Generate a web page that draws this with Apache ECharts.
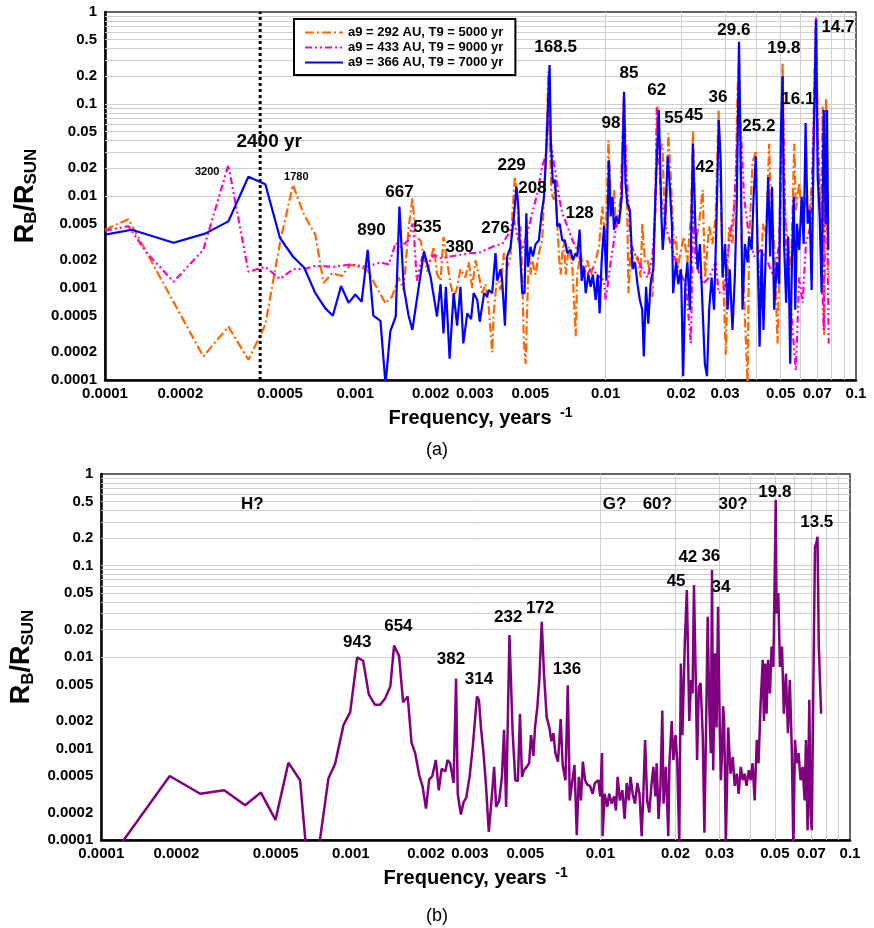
<!DOCTYPE html>
<html>
<head>
<meta charset="utf-8">
<script src="https://cdn.jsdelivr.net/npm/echarts@6/dist/echarts.min.js"></script>
<style>
  html, body { margin: 0; padding: 0; background: #fff; }
  #chart { width: 874px; height: 928px; }
</style>
</head>
<body>
<div id="chart"></div>
<script>
// ---- data: [frequency (1/yr), R_B/R_SUN] ----
const orange292 = [
  [1.00e-4,0.0043],[1.24e-4,0.0056],[2.47e-4,0.00018],[3.11e-4,0.00038],[3.74e-4,0.000166],
  [4.37e-4,0.0004],[5.0e-4,0.0031],[5.63e-4,0.0132],[6.25e-4,0.0062],[6.92e-4,0.0038],
  [7.47e-4,0.00113],[8.07e-4,0.00145],[8.85e-4,0.00135],[9.55e-4,0.0018],[1.11e-3,0.0016],
  [1.32e-3,0.00068],[1.40e-3,0.0008],[1.49e-3,0.0013],[1.56e-3,0.00095],[1.63e-3,0.0043],
  [1.69e-3,0.0095],[1.74e-3,0.0036],[1.82e-3,0.0033],[1.88e-3,0.0022],[1.94e-3,0.0015],
  [2.06e-3,0.0028],[2.12e-3,0.0014],[2.19e-3,0.0012],[2.25e-3,0.0036],[2.33e-3,0.0019],
  [2.40e-3,0.0011],[2.47e-3,0.0008],[2.55e-3,0.0010],[2.63e-3,0.0016],[2.75e-3,0.0013],
  [2.84e-3,0.0019],[2.93e-3,0.0010],[3.02e-3,0.0020],[3.11e-3,0.0014],[3.21e-3,0.00088],
  [3.31e-3,0.0011],[3.41e-3,0.00063],[3.52e-3,0.0002],[3.57e-3,0.00053],[3.69e-3,0.0014],
  [3.80e-3,0.00095],[3.92e-3,0.0024],[4.04e-3,0.0017],[4.17e-3,0.0022],[4.24e-3,0.0065],
  [4.34e-3,0.0163],[4.44e-3,0.0098],[4.50e-3,0.0033],[4.57e-3,0.0047],[4.64e-3,0.0014],
  [4.71e-3,0.00027],[4.79e-3,0.00015],[4.86e-3,0.00063],[4.94e-3,0.0024],[5.01e-3,0.0014],
  [5.09e-3,0.0020],[5.25e-3,0.0014],[5.41e-3,0.0024],[5.58e-3,0.0033],[5.67e-3,0.0098],
  [5.75e-3,0.0207],[5.85e-3,0.086],[5.90e-3,0.225],[5.97e-3,0.04],[6.08e-3,0.0108],
  [6.21e-3,0.0091],[6.31e-3,0.015],[6.41e-3,0.005],[6.51e-3,0.0022],[6.61e-3,0.0014],
  [6.71e-3,0.0024],[6.81e-3,0.0033],[6.92e-3,0.0014],[7.13e-3,0.0028],[7.36e-3,0.0017],
  [7.59e-3,0.0003],[7.70e-3,0.0014],[7.94e-3,0.0024],[8.19e-3,0.0014],[8.45e-3,0.0020],
  [8.71e-3,0.0014],[9.12e-3,0.0020],[9.40e-3,0.0028],[9.70e-3,0.0077],[0.0100,0.0028],
  [0.01026,0.040],[0.01047,0.0098],[0.01064,0.0070],[0.0108,0.0116],[0.01096,0.0050],
  [0.0113,0.0070],[0.01148,0.0098],[0.01184,0.13],[0.0120,0.019],[0.0122,0.0070],
  [0.01233,0.00088],[0.0126,0.0026],[0.0130,0.0019],[0.0134,0.0022],[0.0138,0.0013],
  [0.0140,0.0050],[0.01436,0.0019],[0.0147,0.0020],[0.0151,0.0014],[0.01538,0.0008],
  [0.01574,0.0070],[0.0161,0.094],[0.01644,0.031],[0.01686,0.037],[0.0171,0.0098],
  [0.01738,0.0047],[0.0178,0.048],[0.0182,0.016],[0.0185,0.0060],[0.01875,0.0030],
  [0.0191,0.0036],[0.01936,0.0016],[0.0200,0.0026],[0.02056,0.0036],[0.0212,0.0019],
  [0.0219,0.0060],[0.02234,0.052],[0.0229,0.0030],[0.0236,0.0050],[0.0244,0.0116],
  [0.02495,0.0013],[0.0259,0.0047],[0.0267,0.0030],[0.0275,0.0060],[0.02825,0.086],
  [0.0288,0.0098],[0.02945,0.0013],[0.0302,0.00019],[0.0311,0.0047],[0.0321,0.0030],
  [0.0331,0.016],[0.0336,0.13],[0.0341,0.30],[0.0349,0.0030],[0.0357,0.00088],
  [0.0369,0.00009],[0.0374,0.0030],[0.0386,0.023],[0.0398,0.031],[0.0404,0.0030],
  [0.0417,0.00058],[0.0424,0.0050],[0.0437,0.0036],[0.0450,0.037],[0.0457,0.0098],
  [0.0471,0.0030],[0.0486,0.00025],[0.0498,0.0036],[0.0509,0.28],[0.0516,0.0098],
  [0.0533,0.0030],[0.0550,0.0016],[0.0567,0.037],[0.0575,0.0070],[0.0593,0.0138],
  [0.0612,0.0050],[0.0631,0.0098],[0.0650,0.0060],[0.0671,0.016],[0.0692,0.60],
  [0.0706,0.037],[0.0724,0.0047],[0.0736,0.094],[0.0747,0.0003],[0.0759,0.115],
  [0.0770,0.0030],[0.0778,0.0013]
];

const pink433 = [
  [1.00e-4,0.0042],[1.24e-4,0.0047],[1.47e-4,0.0024],[1.88e-4,0.00117],[2.47e-4,0.0026],
  [3.11e-4,0.0217],[3.74e-4,0.0015],[4.37e-4,0.0017],[5.0e-4,0.00125],[5.63e-4,0.0016],
  [6.25e-4,0.00161],[6.92e-4,0.00174],[8.2e-4,0.0017],[9.55e-4,0.0018],[1.11e-3,0.0017],
  [1.26e-3,0.0019],[1.36e-3,0.0018],[1.45e-3,0.0031],[1.52e-3,0.0028],[1.63e-3,0.0033],
  [1.69e-3,0.0050],[1.72e-3,0.0033],[1.76e-3,0.0012],[1.85e-3,0.0022],[1.97e-3,0.0019],
  [2.06e-3,0.0023],[2.19e-3,0.0021],[2.40e-3,0.0022],[2.63e-3,0.0023],[2.93e-3,0.0024],
  [3.11e-3,0.0024],[3.31e-3,0.0026],[3.63e-3,0.0029],[3.86e-3,0.0030],[4.10e-3,0.0039],
  [4.30e-3,0.0055],[4.45e-3,0.0035],[4.64e-3,0.0026],[4.86e-3,0.0039],[5.09e-3,0.0065],
  [5.33e-3,0.0107],[5.58e-3,0.021],[5.75e-3,0.027],[5.85e-3,0.048],[5.93e-3,0.168],
  [6.01e-3,0.040],[6.15e-3,0.027],[6.31e-3,0.0177],[6.51e-3,0.0098],[6.71e-3,0.0065],
  [7.03e-3,0.0047],[7.36e-3,0.0033],[7.70e-3,0.0026],[8.06e-3,0.0017],[8.45e-3,0.0014],
  [8.80e-3,0.0017],[9.20e-3,0.0014],[9.85e-3,0.0012],[0.0100,0.00074],[0.01047,0.0019],
  [0.01096,0.0043],[0.01148,0.0070],[0.01184,0.12],[0.0121,0.019],[0.0126,0.0030],
  [0.0132,0.0022],[0.0140,0.0016],[0.0147,0.0013],[0.01538,0.0022],[0.0158,0.0070],
  [0.0160,0.094],[0.0166,0.0098],[0.01738,0.0047],[0.0182,0.0030],[0.0191,0.0019],
  [0.0200,0.0014],[0.0209,0.0011],[0.0219,0.00025],[0.02234,0.0070],[0.0229,0.0019],
  [0.0244,0.0011],[0.0259,0.0013],[0.0275,0.0019],[0.0283,0.00088],[0.0297,0.00095],
  [0.0311,0.0030],[0.0325,0.0070],[0.0331,0.0162],[0.0341,0.12],[0.0349,0.037],
  [0.0357,0.0098],[0.0374,0.0036],[0.0392,0.0022],[0.0417,0.0026],[0.0444,0.0019],
  [0.0471,0.0013],[0.0493,0.0030],[0.0509,0.20],[0.0524,0.0030],[0.0550,0.00058],
  [0.0575,0.000127],[0.0593,0.0013],[0.0612,0.00069],[0.0631,0.0030],[0.0661,0.0050],
  [0.0692,0.90],[0.0706,0.0245],[0.0724,0.0030],[0.0743,0.00035],[0.0752,0.086],
  [0.0766,0.0077],[0.0778,0.00025]
];

const blue366 = [
  [1.00e-4,0.0038],[1.28e-4,0.0043],[1.88e-4,0.0031],[2.51e-4,0.0039],[3.11e-4,0.0053],
  [3.74e-4,0.0162],[4.37e-4,0.0134],[5.0e-4,0.0035],[5.63e-4,0.0022],[6.25e-4,0.00166],
  [6.92e-4,0.00088],[7.59e-4,0.0006],[8.13e-4,0.0005],[8.77e-4,0.00105],[9.4e-4,0.00069],
  [1.0e-3,0.00085],[1.06e-3,0.00071],[1.12e-3,0.0026],[1.18e-3,0.0005],[1.26e-3,0.00044],
  [1.32e-3,0.00009],[1.38e-3,0.00034],[1.45e-3,0.00049],[1.50e-3,0.0077],[1.56e-3,0.00103],
  [1.63e-3,0.00051],[1.69e-3,0.00035],[1.88e-3,0.0025],[2.0e-3,0.0013],[2.12e-3,0.00049],
  [2.19e-3,0.0011],[2.25e-3,0.00032],[2.30e-3,0.00103],[2.38e-3,0.00017],[2.47e-3,0.00088],
  [2.55e-3,0.00039],[2.63e-3,0.00103],[2.70e-3,0.00025],[2.80e-3,0.00053],[2.90e-3,0.00046],
  [2.97e-3,0.00088],[3.07e-3,0.00074],[3.14e-3,0.00043],[3.27e-3,0.00088],[3.36e-3,0.00081],
  [3.41e-3,0.00095],[3.52e-3,0.00088],[3.63e-3,0.0024],[3.69e-3,0.0012],[3.80e-3,0.0016],
  [3.86e-3,0.0012],[3.96e-3,0.00039],[4.04e-3,0.0022],[4.17e-3,0.0028],[4.30e-3,0.0060],
  [4.40e-3,0.0126],[4.48e-3,0.0077],[4.54e-3,0.0028],[4.64e-3,0.00088],[4.74e-3,0.00088],
  [4.82e-3,0.0065],[4.89e-3,0.0017],[5.01e-3,0.0028],[5.12e-3,0.0022],[5.25e-3,0.0030],
  [5.41e-3,0.0033],[5.55e-3,0.0065],[5.67e-3,0.0098],[5.79e-3,0.031],[5.90e-3,0.12],
  [5.97e-3,0.265],[6.04e-3,0.04],[6.15e-3,0.0138],[6.27e-3,0.015],[6.41e-3,0.0047],
  [6.55e-3,0.0050],[6.71e-3,0.0033],[6.87e-3,0.0033],[7.03e-3,0.0024],[7.24e-3,0.0026],
  [7.40e-3,0.0020],[7.59e-3,0.0024],[7.70e-3,0.0022],[7.87e-3,0.0043],[8.02e-3,0.0012],
  [8.19e-3,0.0017],[8.32e-3,0.00088],[8.53e-3,0.0014],[8.71e-3,0.00103],[8.89e-3,0.0014],
  [9.12e-3,0.00074],[9.29e-3,0.0014],[9.46e-3,0.00053],[9.64e-3,0.0020],[9.85e-3,0.0047],
  [0.01007,0.0012],[0.0103,0.0245],[0.01047,0.006],[0.01064,0.0098],[0.0108,0.0043],
  [0.0110,0.006],[0.0113,0.005],[0.0116,0.0098],[0.01184,0.136],[0.0120,0.0138],
  [0.0122,0.0084],[0.0125,0.007],[0.0128,0.0016],[0.0131,0.0019],[0.0134,0.0011],
  [0.0137,0.00074],[0.0140,0.00058],[0.0142,0.00018],[0.0145,0.00103],[0.0148,0.00041],
  [0.0151,0.0011],[0.0155,0.0016],[0.0158,0.0098],[0.0163,0.086],[0.0165,0.0245],
  [0.0167,0.006],[0.0169,0.0026],[0.0173,0.006],[0.0177,0.027],[0.0180,0.0138],
  [0.0184,0.0047],[0.0186,0.00088],[0.0191,0.0019],[0.0195,0.0011],[0.0200,0.0016],
  [0.0204,0.00011],[0.0208,0.0011],[0.0212,0.0019],[0.0217,0.00058],[0.0223,0.037],
  [0.0228,0.005],[0.0233,0.0016],[0.0238,0.003],[0.0244,0.00058],[0.0249,0.00015],
  [0.0254,0.00011],[0.0259,0.00058],[0.0265,0.0013],[0.0271,0.00058],[0.0277,0.005],
  [0.0283,0.067],[0.0288,0.0245],[0.0293,0.0013],[0.0300,0.003],[0.0307,0.00058],
  [0.0313,0.0016],[0.0321,0.00035],[0.0328,0.0013],[0.0334,0.0084],[0.0341,0.475],
  [0.0347,0.0162],[0.0352,0.00058],[0.0360,0.003],[0.0369,0.0019],[0.0374,0.0036],
  [0.0383,0.0026],[0.0390,0.0098],[0.0398,0.027],[0.0404,0.003],[0.0412,0.00023],
  [0.0420,0.0026],[0.0427,0.00035],[0.0437,0.003],[0.0446,0.016],[0.0454,0.0022],
  [0.0462,0.0126],[0.0471,0.00058],[0.0483,0.0019],[0.0493,0.0011],[0.0501,0.048],
  [0.0509,0.20],[0.0516,0.003],[0.0526,0.00069],[0.0536,0.0036],[0.0546,0.00015],
  [0.0555,0.002],[0.0564,0.0098],[0.0572,0.00058],[0.0581,0.005],[0.0593,0.0026],
  [0.0607,0.0098],[0.0618,0.003],[0.0629,0.062],[0.0641,0.005],[0.0653,0.007],
  [0.0665,0.00095],[0.0677,0.031],[0.0692,0.82],[0.0703,0.0162],[0.0716,0.006],
  [0.0729,0.00088],[0.0743,0.086],[0.0757,0.005],[0.0766,0.086],[0.0775,0.0026]
];

const purpleB = [
  [1.10e-4,0.00006],[1.23e-4,0.0001],[1.88e-4,0.0005],[2.49e-4,0.00032],[3.11e-4,0.00035],
  [3.77e-4,0.00024],[4.36e-4,0.00033],[4.99e-4,0.000166],[5.62e-4,0.0007],[6.26e-4,0.00045],
  [6.62e-4,0.00008],[6.9e-4,0.00004],[7.48e-4,0.00009],[8.13e-4,0.00047],[8.65e-4,0.00068],
  [9.34e-4,0.0018],[9.94e-4,0.0025],[1.06e-3,0.0099],[1.12e-3,0.0091],[1.18e-3,0.0039],
  [1.25e-3,0.0030],[1.31e-3,0.0030],[1.37e-3,0.0035],[1.44e-3,0.0048],[1.49e-3,0.0133],
  [1.56e-3,0.0103],[1.62e-3,0.0032],[1.69e-3,0.0037],[1.75e-3,0.00116],[1.81e-3,0.00089],
  [1.88e-3,0.00051],[1.94e-3,0.00038],[2.00e-3,0.00022],[2.06e-3,0.00046],[2.12e-3,0.0005],
  [2.19e-3,0.00075],[2.25e-3,0.00035],[2.31e-3,0.0006],[2.39e-3,0.00056],[2.44e-3,0.00075],
  [2.50e-3,0.00069],[2.58e-3,0.00042],[2.64e-3,0.0058],[2.68e-3,0.00032],[2.76e-3,0.00019],
  [2.83e-3,0.00026],[2.90e-3,0.00029],[2.99e-3,0.00049],[3.08e-3,0.00105],[3.20e-3,0.0037],
  [3.26e-3,0.0034],[3.32e-3,0.0017],[3.40e-3,0.00089],[3.48e-3,0.00039],[3.57e-3,0.000123],
  [3.66e-3,0.00027],[3.75e-3,0.00063],[3.82e-3,0.00023],[3.93e-3,0.00027],[4.03e-3,0.00049],
  [4.11e-3,0.0016],[4.19e-3,0.00023],[4.32e-3,0.0174],[4.45e-3,0.00147],[4.56e-3,0.00045],
  [4.67e-3,0.00044],[4.76e-3,0.0024],[4.85e-3,0.00049],[4.94e-3,0.00058],[5.07e-3,0.00063],
  [5.18e-3,0.00069],[5.27e-3,0.0014],[5.39e-3,0.00083],[5.47e-3,0.0017],[5.59e-3,0.0029],
  [5.69e-3,0.0056],[5.82e-3,0.0243],[5.94e-3,0.0066],[6.09e-3,0.0022],[6.24e-3,0.0017],
  [6.36e-3,0.0012],[6.48e-3,0.00147],[6.60e-3,0.00089],[6.76e-3,0.00072],[6.93e-3,0.0021],
  [7.06e-3,0.00066],[7.24e-3,0.00045],[7.40e-3,0.0049],[7.54e-3,0.00027],[7.67e-3,0.00039],
  [7.87e-3,0.00066],[8.04e-3,0.000113],[8.19e-3,0.00049],[8.36e-3,0.00027],[8.50e-3,0.00072],
  [8.68e-3,0.00045],[8.87e-3,0.0004],[9.08e-3,0.00039],[9.31e-3,0.00032],[9.50e-3,0.00042],
  [9.81e-3,0.00045],[9.98e-3,0.0003],[0.01015,0.00089],[0.0102,0.00011],[0.0104,0.00032],
  [0.01066,0.00023],[0.01084,0.00032],[0.0111,0.00025],[0.01135,0.0003],[0.01154,0.00021],
  [0.01172,0.00049],[0.01197,0.00027],[0.01224,0.00035],[0.0125,0.00017],[0.01274,0.00042],
  [0.0130,0.00027],[0.0132,0.00049],[0.01346,0.00032],[0.01376,0.00025],[0.01406,0.00042],
  [0.01434,0.00032],[0.01463,0.00011],[0.01486,0.00032],[0.0151,0.00124],[0.0154,0.00027],
  [0.0157,0.0002],[0.0160,0.00039],[0.0163,0.00063],[0.0166,0.0003],[0.0168,0.00069],
  [0.0171,0.00017],[0.0174,0.00039],[0.0177,0.0026],[0.0179,0.00025],[0.0183,0.00063],
  [0.0187,0.00011],[0.0189,0.00069],[0.0193,0.0020],[0.0196,0.00075],[0.0200,0.0014],
  [0.0203,0.00075],[0.0207,0.00009],[0.0210,0.0085],[0.0213,0.0014],[0.0218,0.0153],
  [0.0222,0.054],[0.0224,0.0141],[0.0227,0.0020],[0.0231,0.0056],[0.0234,0.0040],
  [0.0237,0.061],[0.0241,0.0056],[0.0244,0.00075],[0.0248,0.0047],[0.0252,0.0052],
  [0.0257,0.0014],[0.0261,0.00012],[0.0265,0.0017],[0.0269,0.0276],[0.0273,0.0029],
  [0.0277,0.00089],[0.0280,0.089],[0.0283,0.00058],[0.0288,0.011],[0.0292,0.0017],
  [0.0296,0.0355],[0.0301,0.0014],[0.0304,0.00045],[0.0307,0.00089],[0.0310,0.0029],
  [0.0313,0.0020],[0.0315,0.00069],[0.0318,0.00009],[0.0325,0.0017],[0.0332,0.00053],
  [0.0339,0.00081],[0.0345,0.00039],[0.0352,0.00053],[0.0358,0.00032],[0.0365,0.00063],
  [0.0372,0.00045],[0.0378,0.00053],[0.0385,0.00039],[0.0393,0.00058],[0.0400,0.00045],
  [0.0407,0.00069],[0.0415,0.00027],[0.0423,0.00124],[0.0430,0.00069],[0.0438,0.0029],
  [0.0447,0.0093],[0.0452,0.0020],[0.0458,0.0085],[0.0463,0.0024],[0.0470,0.0093],
  [0.0478,0.0040],[0.0485,0.013],[0.0493,0.0078],[0.0499,0.069],[0.0504,0.52],
  [0.0508,0.030],[0.0516,0.050],[0.0524,0.0078],[0.0534,0.013],[0.0543,0.0024],
  [0.0554,0.0066],[0.0564,0.00147],[0.0574,0.0056],[0.0585,0.00089],[0.0593,0.00008],
  [0.0602,0.00124],[0.0611,0.00069],[0.0622,0.00089],[0.0634,0.00045],[0.0646,0.00063],
  [0.0658,0.00027],[0.0666,0.00124],[0.0676,0.000128],[0.0687,0.0034],[0.0695,0.00019],
  [0.0703,0.000128],[0.0713,0.0047],[0.0724,0.16],[0.0733,0.175],[0.0741,0.206],
  [0.0750,0.013],[0.0758,0.0056],[0.0766,0.0024]
];

// peak labels: [text, frequency, value]
const notesA = [
  ['2400 yr',4.53e-4,0.0386],['3200',2.56e-4,0.0182],['1780',5.81e-4,0.0161],
  ['667',1.5e-3,0.011],['890',1.16e-3,0.0042],['535',1.94e-3,0.0046],['380',2.61e-3,0.0028],
  ['276',3.63e-3,0.0045],['229',4.21e-3,0.0217],['208',5.1e-3,0.0122],['168.5',6.31e-3,0.417],
  ['128',7.87e-3,0.0065],['98',0.0105,0.062],['85',0.0124,0.217],['62',0.016,0.142],
  ['55',0.0187,0.0705],['45',0.0225,0.076],['42',0.0249,0.0207],['36',0.0281,0.119],
  ['29.6',0.0325,0.64],['25.2',0.0409,0.0577],['19.8',0.0515,0.406],['16.1',0.0586,0.113],
  ['14.7',0.0847,0.687]
];
const notesB = [
  ['H?',4.03e-4,0.47],['943',1.06e-3,0.0146],['654',1.55e-3,0.0218],['382',2.52e-3,0.0095],
  ['314',3.26e-3,0.0057],['232',4.27e-3,0.0274],['172',5.73e-3,0.0343],['136',7.35e-3,0.0074],
  ['G?',0.0114,0.47],['60?',0.0169,0.47],['30?',0.034,0.47],['45',0.0201,0.0677],
  ['42',0.0224,0.124],['36',0.0277,0.127],['34',0.0304,0.058],['19.8',0.05,0.636],
  ['13.5',0.0736,0.299]
];
const smallNotes = ['3200', '1780'];

// the 2400-yr marker runs over the full value range
const period2400 = 2400;
const marker2400 = [[1 / period2400, 0.0001], [1 / period2400, 1]];

const xTicks = [0.0001,0.0002,0.0005,0.001,0.002,0.003,0.005,0.01,0.02,0.03,0.05,0.07,0.1];
const yTicks = [0.0001,0.0002,0.0005,0.001,0.002,0.005,0.01,0.02,0.05,0.1,0.2,0.5,1];

const names = ['a9 = 292 AU, T9 = 5000 yr', 'a9 = 433 AU, T9 = 9000 yr', 'a9 = 366 AU, T9 = 7000 yr'];

// ---- styling ----
const FONT = '"Liberation Sans", Arial, Helvetica, sans-serif';

// light grid at 1..9 x 10^k, inside the plot only
function gridValues(lo, hi) {
  const out = [];
  for (let k = Math.round(Math.log10(lo)); k < Math.round(Math.log10(hi)); k++) {
    for (let m = 1; m <= 9; m++) {
      const v = +(m * Math.pow(10, k)).toPrecision(2);
      if (v > lo * 1.001 && v < hi * 0.999) out.push(v);
    }
  }
  return out;
}
function gridMarks() {
  return {
    silent: true,
    z: 1,
    animation: false,
    symbol: ['none', 'none'],
    label: { show: false },
    emphasis: { disabled: true },
    lineStyle: { color: '#cfcfcf', width: 1, type: 'solid' },
    data: gridValues(1e-4, 0.1).map(v => ({ xAxis: v }))
      .concat(gridValues(1e-4, 1).map(v => ({ yAxis: v })))
  };
}

const tickText = v => String(+(+v).toPrecision(3));

function xAxisFor(idx) {
  return {
    type: 'log', logBase: 10, gridIndex: idx, min: 0.0001, max: 0.1,
    axisLine: { show: true, onZero: false, lineStyle: { color: '#000', width: 2.5 } },
    axisTick: { show: false },
    splitLine: { show: false },
    axisLabel: {
      customValues: xTicks, formatter: tickText, margin: 6,
      color: '#000', fontFamily: FONT, fontWeight: 'bold', fontSize: 15
    },
    name: '{t|Frequency, years }{p|-1}',
    nameLocation: 'middle',
    nameGap: 26,
    nameTextStyle: {
      color: '#000',
      rich: {
        t: { fontFamily: FONT, fontWeight: 'bold', fontSize: 20, lineHeight: 24, color: '#000' },
        p: { fontFamily: FONT, fontWeight: 'bold', fontSize: 14, lineHeight: 14, verticalAlign: 'top', padding: [0, 0, 0, 3], color: '#000' }
      }
    }
  };
}
function yAxisFor(idx) {
  return {
    type: 'log', logBase: 10, gridIndex: idx, min: 0.0001, max: 1,
    axisLine: { show: true, onZero: false, lineStyle: { color: '#000', width: 2.5 } },
    axisTick: { show: false },
    splitLine: { show: false },
    axisLabel: {
      customValues: yTicks, formatter: tickText, margin: 8,
      color: '#000', fontFamily: FONT, fontWeight: 'bold', fontSize: 15
    },
    name: '{m|R}{s|B}{m|/R}{s|SUN}',
    nameLocation: 'middle',
    nameRotate: 90,
    nameGap: 64,
    nameTextStyle: {
      color: '#000',
      rich: {
        m: { fontFamily: FONT, fontWeight: 'bold', fontSize: 27, lineHeight: 30, color: '#000' },
        s: { fontFamily: FONT, fontWeight: 'bold', fontSize: 17, lineHeight: 15, verticalAlign: 'bottom', color: '#000' }
      }
    }
  };
}

function noteSeries(notes, idx) {
  return {
    type: 'scatter', xAxisIndex: idx, yAxisIndex: idx, z: 10, silent: true,
    symbolSize: 1,
    itemStyle: { color: 'rgba(0,0,0,0)', opacity: 1 },
    data: notes.map(n => {
      const item = { name: n[0], value: [n[1], n[2]] };
      if (smallNotes.indexOf(n[0]) >= 0) item.label = { fontSize: 11 };
      if (n[0] === '2400 yr') item.label = { fontSize: 19 };
      return item;
    }),
    label: {
      show: true, position: 'inside', formatter: p => p.name,
      color: '#000', opacity: 1, textBorderWidth: 0, textShadowBlur: 0,
      fontFamily: FONT, fontWeight: 'bold', fontSize: 17
    }
  };
}

const chart = echarts.init(document.getElementById('chart'), null, { renderer: 'canvas' });

chart.setOption({
  animation: false,
  backgroundColor: '#fff',
  title: [
    { text: '(a)', left: 'center', top: 436, textStyle: { fontFamily: FONT, fontWeight: 'normal', fontSize: 18, color: '#000' } },
    { text: '(b)', left: 'center', top: 902, textStyle: { fontFamily: FONT, fontWeight: 'normal', fontSize: 18, color: '#000' } }
  ],
  legend: {
    data: names,
    left: 294, top: 19,
    orient: 'vertical',
    itemWidth: 38, itemHeight: 12, itemGap: 2,
    padding: [7, 12, 6, 10],
    borderColor: '#000', borderWidth: 2,
    backgroundColor: '#fff',
    selectedMode: false,
    itemStyle: { opacity: 0 },
    textStyle: { fontFamily: FONT, fontWeight: 'bold', fontSize: 13, color: '#000' }
  },
  grid: [
    { left: 105, top: 12, width: 751, height: 368, show: true, borderColor: '#333', borderWidth: 1.5, backgroundColor: '#fff' },
    { left: 101, top: 474, width: 749, height: 366, show: true, borderColor: '#333', borderWidth: 1.5, backgroundColor: '#fff' }
  ],
  xAxis: [xAxisFor(0), xAxisFor(1)],
  yAxis: [yAxisFor(0), yAxisFor(1)],
  series: [
    {
      name: names[0], type: 'line', xAxisIndex: 0, yAxisIndex: 0,
      data: orange292, symbol: 'none', silent: true,
      itemStyle: { color: '#FF6600' },
      lineStyle: { color: '#FF6600', width: 2.2, type: [9, 3, 2, 3] },
      markLine: gridMarks()
    },
    {
      name: names[1], type: 'line', xAxisIndex: 0, yAxisIndex: 0,
      data: pink433, symbol: 'none', silent: true,
      itemStyle: { color: '#FF00CC' },
      lineStyle: { color: '#FF00CC', width: 2.2, type: [7, 3, 2, 3, 2, 3] }
    },
    {
      name: names[2], type: 'line', xAxisIndex: 0, yAxisIndex: 0,
      data: blue366, symbol: 'none', silent: true,
      itemStyle: { color: '#0000FF' },
      lineStyle: { color: '#0000FF', width: 2.2 }
    },
    {
      type: 'line', xAxisIndex: 0, yAxisIndex: 0, z: 5,
      data: marker2400, symbol: 'none', silent: true,
      lineStyle: { color: '#000', width: 3, type: [3, 3] }
    },
    noteSeries(notesA, 0),
    {
      type: 'line', xAxisIndex: 1, yAxisIndex: 1,
      data: purpleB, symbol: 'none', silent: true,
      itemStyle: { color: '#800080' },
      lineStyle: { color: '#800080', width: 2.5 },
      markLine: gridMarks()
    },
    noteSeries(notesB, 1)
  ]
});
</script>
</body>
</html>
